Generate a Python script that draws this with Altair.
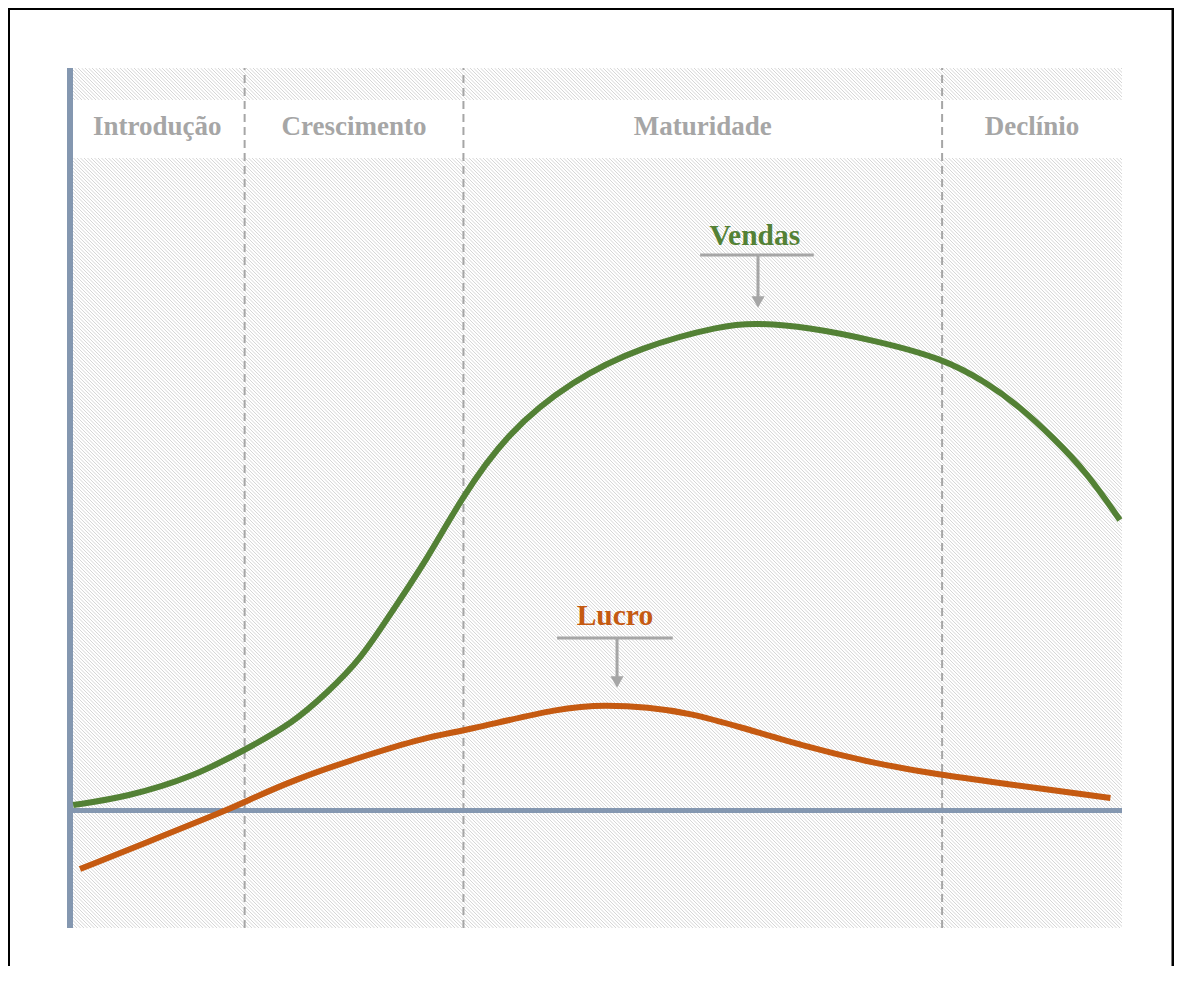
import altair as alt
import pandas as pd
import numpy as np

# ---- data (x: tempo 0-100, y: relative value, 0 = zero line) ----
tempo_vendas = [0.3, 5.4, 11.7, 16.6, 21.2, 24.4, 27.6, 30.7, 33.9, 37.1, 41.5, 47.8,
                54.2, 62.1, 65.3, 70.1, 76.3, 82.9, 87.2, 90.3, 93.4, 96.7, 99.8]
valor_vendas = [0.55, 1.35, 3.35, 6.05, 8.75, 11.75, 15.05, 20.05, 25.05, 31.05, 37.75, 43.05,
                46.35, 48.55, 48.75, 48.35, 47.05, 45.25, 42.75, 40.35, 37.35, 33.75, 29.05]

tempo_lucro = [0.95, 8.6, 14.9, 16.6, 21.2, 27.6, 33.9, 37.4, 46.9, 51.0, 54.9, 58.9,
               63.7, 70.1, 76.3, 82.7, 88.4, 98.9]
valor_lucro = [-5.85, -2.65, 0.05, 0.85, 3.05, 5.35, 7.35, 7.95, 10.35, 10.55, 10.35, 9.75,
               8.35, 6.35, 4.75, 3.55, 2.75, 1.25]

estagios = ["Introdução", "Crescimento", "Maturidade", "Declínio"]
limites = [0, 16.6, 37.4, 82.9, 100]

Y_MIN, Y_MAX = -11.75, 74.25
XS = alt.Scale(domain=[0, 100], nice=False, zero=False)
YS = alt.Scale(domain=[Y_MIN, Y_MAX], nice=False, zero=False)

def X(f):
    return alt.X(f, type="quantitative", scale=XS, axis=None)

def Yc(f):
    return alt.Y(f, type="quantitative", scale=YS, axis=None)

GREY = "#a6a6a6"
AXC = "#8497b0"
GREEN = "#538135"
ORANGE = "#c55a11"
FONT = "Liberation Serif"

# frame
frame = alt.Chart(pd.DataFrame({"a": [0]})).mark_rect(
    fillOpacity=0, stroke="black", strokeWidth=3, clip=False
).encode(x=alt.value(-61.5), x2=alt.value(1103), y=alt.value(-59.5), y2=alt.value(1000))

# hatched background (decorative diagonal stripes)
span = 860 / 10.52
starts = np.arange(-span, 100, 0.3327)
hatch_df = pd.DataFrame({"x": starts, "x2": starts + span, "y": Y_MAX, "y2": Y_MIN})
hatch = alt.Chart(hatch_df).mark_rule(color="#d6d6d6", strokeWidth=1, clip=True).encode(
    x=X("x"), x2="x2", y=Yc("y"), y2="y2"
)

# white label band
band = alt.Chart(pd.DataFrame({"x": [0], "x2": [100], "y": [71.05], "y2": [65.25]})).mark_rect(
    color="white"
).encode(x=X("x"), x2="x2", y=Yc("y"), y2="y2")

# stage separators
sep_df = pd.DataFrame({"x": limites[1:-1], "y": Y_MIN, "y2": Y_MAX})
seps = alt.Chart(sep_df).mark_rule(color=GREY, strokeWidth=2, strokeDash=[8, 5]).encode(
    x=X("x"), y=Yc("y"), y2="y2"
)

# stage labels
lab_df = pd.DataFrame({
    "nome": estagios,
    "x": [(limites[i] + limites[i + 1]) / 2 for i in range(4)],
    "y": 68.35,
})
labels = alt.Chart(lab_df).mark_text(
    font=FONT, fontWeight="bold", fontSize=27, color=GREY, baseline="middle", align="center"
).encode(x=X("x"), y=Yc("y"), text="nome:N")

# axes lines
zero_line = alt.Chart(pd.DataFrame({"x": [0], "x2": [100], "y": [0]})).mark_rule(
    color=AXC, strokeWidth=5
).encode(x=X("x"), x2="x2", y=Yc("y"))
left_axis = alt.Chart(pd.DataFrame({"x": [0], "y": [Y_MIN], "y2": [Y_MAX]})).mark_rule(
    color=AXC, strokeWidth=6
).encode(x=X("x"), y=Yc("y"), y2="y2")

# curves
vend = alt.Chart(pd.DataFrame({"x": tempo_vendas, "y": valor_vendas})).mark_line(
    color=GREEN, strokeWidth=6, interpolate="basis"
).encode(x=X("x"), y=Yc("y"))
lucr = alt.Chart(pd.DataFrame({"x": tempo_lucro, "y": valor_lucro})).mark_line(
    color=ORANGE, strokeWidth=6, interpolate="basis"
).encode(x=X("x"), y=Yc("y"))

# annotations
ann_text = pd.DataFrame({"nome": ["Vendas", "Lucro"], "x": [65.1, 51.8], "y": [56.55, 18.55],
                         "cor": [GREEN, ORANGE]})
ann_labels = alt.Chart(ann_text).mark_text(
    font=FONT, fontWeight="bold", fontSize=29.5, baseline="alphabetic", align="center"
).encode(x=X("x"), y=Yc("y"), text="nome:N", color=alt.Color("cor:N", scale=None))

hbar = pd.DataFrame({"x": [59.9, 46.3], "x2": [70.7, 57.3], "y": [55.55, 17.25]})
hbars = alt.Chart(hbar).mark_rule(color=GREY, strokeWidth=3).encode(x=X("x"), x2="x2", y=Yc("y"))

vbar = pd.DataFrame({"x": [65.4, 52.0], "y": [55.55, 17.25], "y2": [51.2, 13.3]})
vbars = alt.Chart(vbar).mark_rule(color=GREY, strokeWidth=3).encode(x=X("x"), y=Yc("y"), y2="y2")

heads = alt.Chart(pd.DataFrame({"x": [65.4, 52.0], "y": [50.85, 12.85]})).mark_point(
    shape="triangle-down", filled=True, color=GREY, size=170, opacity=1
).encode(x=X("x"), y=Yc("y"))

chart = alt.layer(
    frame, hatch, band, seps, labels, zero_line, left_axis, vend, lucr,
    hbars, vbars, heads, ann_labels
).properties(
    width=1052, height=860,
    padding={"left": 62, "top": 60, "right": 52, "bottom": 38},
    autosize=alt.AutoSizeParams(type="none"),
    background="white",
).configure_view(strokeWidth=0)

chart.save("out.html", embed_options={"renderer": "svg", "actions": False})
